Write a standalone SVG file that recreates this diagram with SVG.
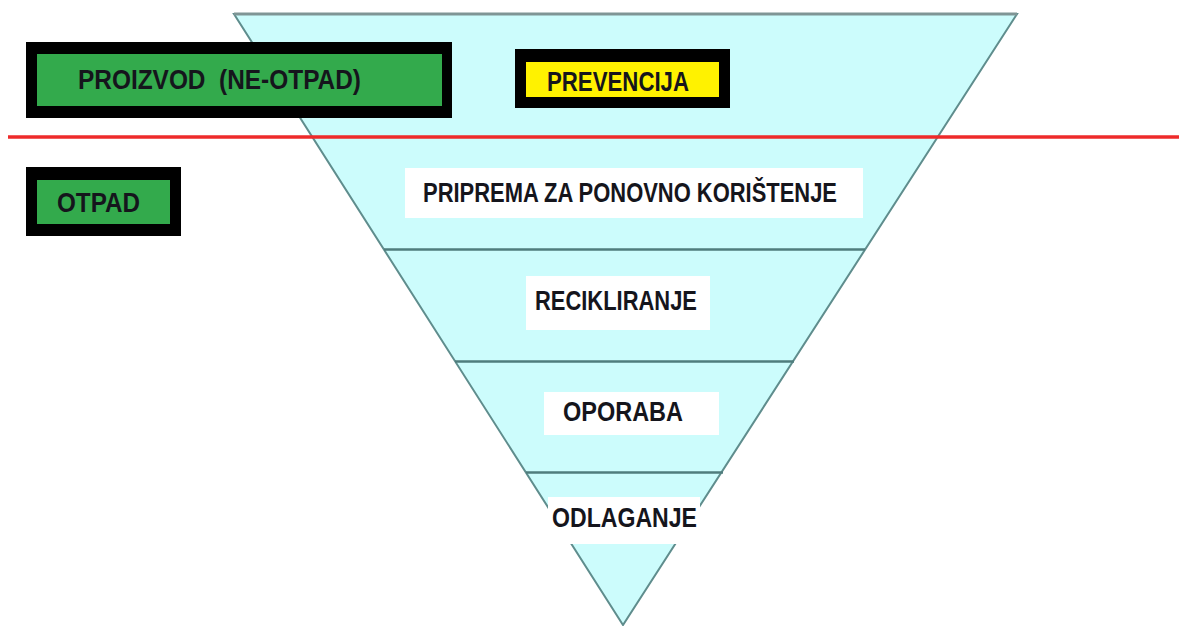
<svg xmlns="http://www.w3.org/2000/svg" width="1179" height="626" viewBox="0 0 1179 626">
<style>
.lbl{font-family:"Liberation Sans",Arial,sans-serif;font-weight:bold;font-size:27px;fill:#15151c}
.white{fill:#ffffff}
.blk{fill:#000000}
.green{fill:#33aa4c}
.yellow{fill:#fff200}
.div{stroke:#4f7d7d;stroke-width:2.5;fill:none}
</style>
<rect x="0" y="0" width="1179" height="626" fill="#ffffff"/>
<g id="pyramid">
<polygon points="234,14 1017,14 623,625" fill="#ccfcfc" stroke="#5f8d8d" stroke-width="2"/>
<line x1="234" y1="14" x2="1017" y2="14" stroke="#7f9595" stroke-width="3"/>
</g>
<g id="dividers">
<line class="div" x1="384" y1="249.5" x2="865" y2="249.5"/>
<line class="div" x1="455" y1="361.5" x2="794" y2="361.5"/>
<line class="div" x1="526" y1="472.5" x2="723" y2="472.5"/>
</g>
<g id="separator">
<line x1="8" y1="137" x2="1179" y2="137" stroke="#ee2a2a" stroke-width="3.5"/>
</g>
<g id="connectors"></g>
<g id="node-proizvod">
<rect class="blk" x="26" y="42" width="426" height="76"/>
<rect class="green" x="37" y="54" width="405" height="52"/>
<text class="lbl" x="78" y="89" textLength="283" lengthAdjust="spacingAndGlyphs" xml:space="preserve">PROIZVOD  (NE-OTPAD)</text>
</g>
<g id="node-otpad">
<rect class="blk" x="26" y="167" width="155" height="69"/>
<rect class="green" x="37" y="180" width="133" height="44"/>
<text class="lbl" x="57" y="212" textLength="83" lengthAdjust="spacingAndGlyphs">OTPAD</text>
</g>
<g id="node-prevencija">
<rect class="blk" x="515" y="49" width="215" height="59"/>
<rect class="yellow" x="526" y="62" width="193" height="35"/>
<text class="lbl" x="547" y="91" textLength="142" lengthAdjust="spacingAndGlyphs">PREVENCIJA</text>
</g>
<g id="node-priprema">
<rect class="white" x="405" y="168" width="458" height="50"/>
<text class="lbl" x="423" y="202" textLength="414" lengthAdjust="spacingAndGlyphs">PRIPREMA ZA PONOVNO KORIŠTENJE</text>
</g>
<g id="node-recikliranje">
<rect class="white" x="526" y="276" width="184" height="54"/>
<text class="lbl" x="535" y="310" textLength="162" lengthAdjust="spacingAndGlyphs">RECIKLIRANJE</text>
</g>
<g id="node-oporaba">
<rect class="white" x="544" y="392" width="175" height="43"/>
<text class="lbl" x="563" y="421" textLength="120" lengthAdjust="spacingAndGlyphs">OPORABA</text>
</g>
<g id="node-odlaganje">
<rect class="white" x="548" y="497" width="152" height="47"/>
<text class="lbl" x="552" y="527" textLength="145" lengthAdjust="spacingAndGlyphs">ODLAGANJE</text>
</g>
</svg>
